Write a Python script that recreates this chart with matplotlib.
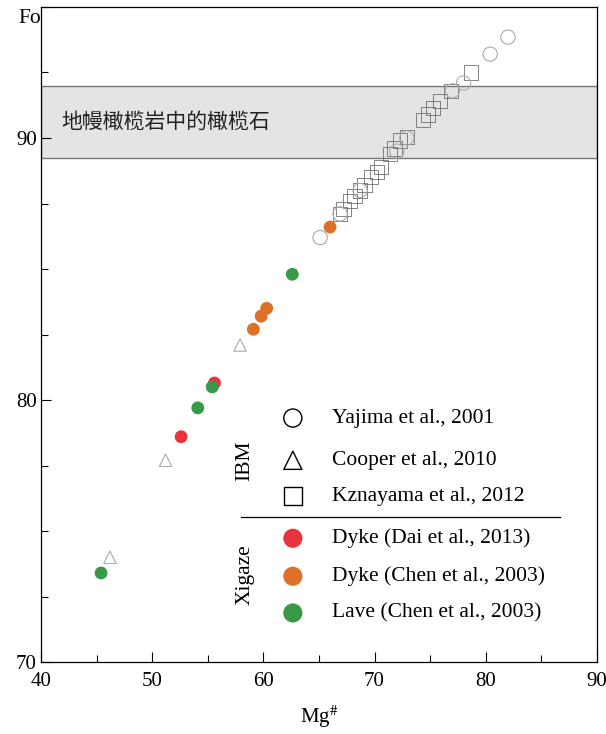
import matplotlib
matplotlib.use("Agg")
import matplotlib.pyplot as plt
from matplotlib.ticker import MultipleLocator

plt.rcParams['font.family'] = ['Liberation Serif', 'DejaVu Serif']
plt.rcParams['mathtext.fontset'] = 'stix'

# IBM data (open symbols)
yajima_x = [65.1, 66.9, 68.7, 72.0, 72.9, 77.0, 78.0, 80.4, 82.0]
yajima_y = [86.2, 87.1, 88.0, 89.5, 90.0, 91.8, 92.1, 93.2, 93.85]
cooper_x = [46.2, 51.2, 57.9]
cooper_y = [74.0, 77.7, 82.1]
kz_x = [66.9, 67.2, 67.8, 68.2, 68.7, 69.1, 69.7, 70.2, 70.6, 71.4, 71.8, 72.3, 72.9,
        74.35, 74.8, 75.25, 75.9, 76.9, 78.7]
kz_y = [87.1, 87.3, 87.6, 87.8, 88.0, 88.2, 88.5, 88.7, 88.9, 89.4, 89.6, 89.9, 90.05,
        90.7, 90.9, 91.15, 91.4, 91.8, 92.5]

# Xigaze data (filled symbols)
dai_x = [52.6, 55.6]
dai_y = [78.6, 80.65]
chen_dyke_x = [59.1, 59.8, 60.3, 66.0]
chen_dyke_y = [82.7, 83.2, 83.5, 86.6]
lave_x = [45.4, 54.1, 55.4, 62.6]
lave_y = [73.4, 79.7, 80.5, 84.8]

mantle_lo, mantle_hi = 89.25, 92.0

c_red = '#e8353b'
c_orange = '#e07027'
c_green = '#389a47'

fig = plt.figure(figsize=(6.06, 7.34), dpi=100)
ax = fig.add_axes([0.0677, 0.098, 0.9173, 0.8925])

ax.axhspan(mantle_lo, mantle_hi, facecolor='#e4e4e4', edgecolor='#777777', lw=1.0, zorder=0)
ax.text(41.8, 90.6, '地幔橄榄岩中的橄榄石', fontsize=15, va='center', ha='left',
        family=['Noto Sans CJK SC', 'DejaVu Sans'], color='#222222')

ax.scatter(kz_x, kz_y, marker='s', s=105, facecolors='none', edgecolors='#707070', linewidths=0.6, zorder=2)
ax.scatter(yajima_x, yajima_y, marker='o', s=105, facecolors='none', edgecolors='#aaaaaa', linewidths=0.8, zorder=2)
ax.scatter(cooper_x, cooper_y, marker='^', s=80, facecolors='none', edgecolors='#aaaaaa', linewidths=0.8, zorder=2)
ax.scatter(dai_x, dai_y, marker='o', s=85, color=c_red, edgecolors='none', zorder=3)
ax.scatter(chen_dyke_x, chen_dyke_y, marker='o', s=85, color=c_orange, edgecolors='none', zorder=3)
ax.scatter(lave_x, lave_y, marker='o', s=85, color=c_green, edgecolors='none', zorder=4)

ax.set_xlim(40, 90)
ax.set_ylim(70, 95)
ax.xaxis.set_major_locator(MultipleLocator(10))
ax.xaxis.set_minor_locator(MultipleLocator(5))
ax.yaxis.set_major_locator(MultipleLocator(10))
ax.yaxis.set_minor_locator(MultipleLocator(2.5))
ax.tick_params(which='both', direction='in', labelsize=15, width=0.8)
ax.tick_params(which='major', length=7)
ax.tick_params(which='minor', length=5)
ax.tick_params(axis='x', pad=7)
ax.tick_params(axis='y', pad=3)
for s in ax.spines.values():
    s.set_linewidth(0.9)

ax.set_xlabel('Mg$^{\\#}$', fontsize=15, labelpad=9)
fig.text(0.05, 0.975, 'Fo', fontsize=15.5, ha='center', va='center')

# legend drawn by hand
labels = ['Yajima et al., 2001', 'Cooper et al., 2010', 'Kznayama et al., 2012',
          'Dyke (Dai et al., 2013)', 'Dyke (Chen et al., 2003)', 'Lave (Chen et al., 2003)']
markers = ['o', '^', 's', 'o', 'o', 'o']
faces = ['none', 'none', 'none', c_red, c_orange, c_green]
rows = [0.3725, 0.308, 0.253, 0.189, 0.131, 0.075]
for lab, m, fc, yy in zip(labels, markers, faces, rows):
    if fc == 'none':
        ax.scatter([0.453], [yy], marker=m, s=170, facecolors='none', edgecolors='black',
                   linewidths=1.0, transform=ax.transAxes, clip_on=False, zorder=5)
    else:
        ax.scatter([0.453], [yy], marker=m, s=190, color=fc, edgecolors='none',
                   transform=ax.transAxes, clip_on=False, zorder=5)
    ax.text(0.523, yy, lab, fontsize=15.5, va='center', ha='left', transform=ax.transAxes)
ax.plot([0.36, 0.933], [0.221, 0.221], color='black', lw=0.9, transform=ax.transAxes)
ax.text(0.367, 0.308, 'IBM', fontsize=15.5, rotation=90, va='center', ha='center', transform=ax.transAxes)
ax.text(0.367, 0.133, 'Xigaze', fontsize=15.5, rotation=90, va='center', ha='center', transform=ax.transAxes)

fig.savefig('out.png', dpi=100)
